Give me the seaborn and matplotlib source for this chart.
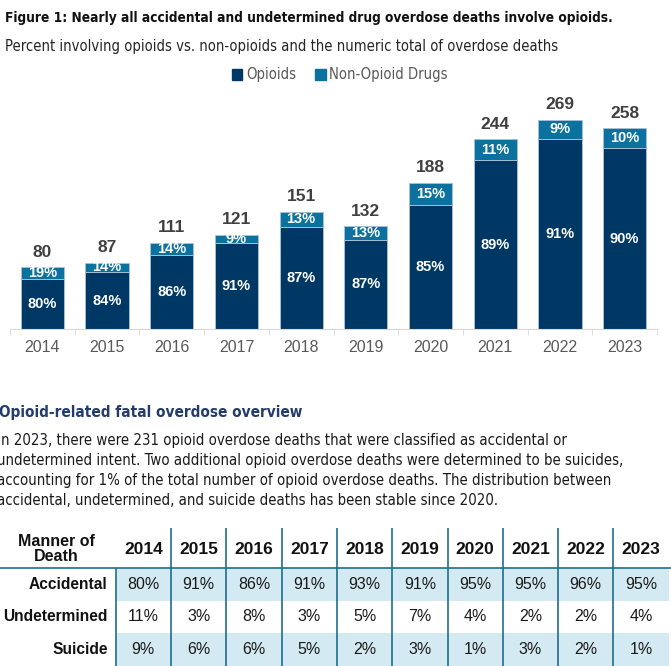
import numpy as np
import pandas as pd
import seaborn as sns
import matplotlib.pyplot as plt
from matplotlib import font_manager as fm
from matplotlib.colors import ListedColormap
from matplotlib.patches import Patch

# figure 1 data
years = ['2014', '2015', '2016', '2017', '2018', '2019', '2020', '2021', '2022', '2023']
totals = [80, 87, 111, 121, 151, 132, 188, 244, 269, 258]
opioid_pct = [80, 84, 86, 91, 87, 87, 85, 89, 91, 90]
nonopioid_pct = [19, 14, 14, 9, 13, 13, 15, 11, 9, 10]

# table data
manner = ['Accidental', 'Undetermined', 'Suicide']
accidental = [80, 91, 86, 91, 93, 91, 95, 95, 96, 95]
undetermined = [11, 3, 8, 3, 5, 7, 4, 2, 2, 4]
suicide = [9, 6, 6, 5, 2, 3, 1, 3, 2, 1]
row_shaded = [1, 0, 1]

paragraph = [
    'In 2023, there were 231 opioid overdose deaths that were classified as accidental or',
    'undetermined intent. Two additional opioid overdose deaths were determined to be suicides,',
    'accounting for 1% of the total number of opioid overdose deaths. The distribution between',
    'accidental, undetermined, and suicide deaths has been stable since 2020.',
]

C_OP = '#003865'
C_NON = '#0b72a0'
EDGE = '#a9c0d3'
GREY = '#595959'
SEP = '#1f6e8c'
SANS = ['Liberation Sans', 'DejaVu Sans']

# pick a narrow face if one is installed
faces = {(f.name, f.stretch) for f in fm.fontManager.ttflist}
NARROW = dict(family=SANS)
for name, stretch in faces:
    if name == 'Liberation Sans Narrow':
        NARROW = dict(family=['Liberation Sans Narrow', 'DejaVu Sans'])
        break
    if name == 'DejaVu Sans' and stretch == 'condensed':
        NARROW = dict(family=['DejaVu Sans'], stretch='condensed')

W, H = 671, 666
fig = plt.figure(figsize=(W / 100, H / 100), dpi=100)
renderer = fig.canvas.get_renderer()


def fx(x):
    return x / W


def fy(y):
    return 1 - y / H


def fit(t, width_px):
    w = t.get_window_extent(renderer=renderer).width
    t.set_fontsize(t.get_fontsize() * width_px / w)
    return t.get_fontsize()


title = fig.text(fx(5), fy(18), 'Figure 1: Nearly all accidental and undetermined drug overdose deaths involve opioids.',
                 weight='bold', fontsize=12.5, va='center', color='#111111', **NARROW)
fit(title, 610)
sub = fig.text(fx(5), fy(47), 'Percent involving opioids vs. non-opioids and the numeric total of overdose deaths',
               fontsize=11.3, va='center', color='#262626', **NARROW)
fit(sub, 555)

# ---- bar chart
df = pd.DataFrame({'year': years, 'total': totals, 'op': opioid_pct, 'non': nonopioid_pct})
df['op_h'] = df['total'] * df['op'] / 100
df['top_h'] = df['total'] * (df['op'] + df['non']) / 100

ax = fig.add_axes([fx(10), fy(329), fx(647), 241 / H])
sns.barplot(data=df, x='year', y='top_h', color=C_NON, width=0.667, saturation=1,
            edgecolor=EDGE, linewidth=0.7, errorbar=None, ax=ax)
sns.barplot(data=df, x='year', y='op_h', color=C_OP, width=0.667, saturation=1,
            edgecolor=EDGE, linewidth=0.7, errorbar=None, ax=ax)

for i, row in df.iterrows():
    ax.text(i, row['op_h'] / 2, f"{row['op']}%", ha='center', va='center',
            color='white', weight='bold', fontsize=10.5, family=SANS)
    ax.text(i, row['op_h'] + (row['top_h'] - row['op_h']) / 2, f"{row['non']}%", ha='center',
            va='center', color='white', weight='bold', fontsize=10.5, family=SANS)
    ax.annotate(str(row['total']), (i, row['top_h']), xytext=(0, 11), textcoords='offset points',
                ha='center', va='center', color='#404040', weight='bold', fontsize=12.5, family=SANS)

ax.set_xlim(-0.5, 9.5)
ax.set_ylim(0, 310)
ax.set_yticks([])
ax.set_xlabel('')
ax.set_ylabel('')
for s in ['top', 'left', 'right']:
    ax.spines[s].set_visible(False)
ax.spines['bottom'].set_color('#d9d9d9')
ax.set_xticks(np.arange(-0.5, 10, 1), minor=True)
ax.tick_params(axis='x', which='major', length=0, pad=8, labelsize=11.5, labelcolor=GREY)
ax.tick_params(axis='x', which='minor', length=4, color='#d9d9d9')
for lab in ax.get_xticklabels():
    lab.set_family(SANS)

# legend font sized so "Non-Opioid Drugs" spans about 118 px
probe = fig.text(0, 0, 'Non-Opioid Drugs', fontsize=11, **NARROW)
leg_size = fit(probe, 118)
probe.remove()
leg_prop = {'size': leg_size, 'family': NARROW['family']}
if 'stretch' in NARROW:
    leg_prop['stretch'] = NARROW['stretch']
fig.legend(handles=[Patch(color=C_OP, label='Opioids'), Patch(color=C_NON, label='Non-Opioid Drugs')],
           loc='center', bbox_to_anchor=(fx(340), fy(75)), ncol=2, frameon=False,
           handlelength=0.7, handleheight=0.7, handletextpad=0.25, columnspacing=1.3,
           prop=leg_prop, labelcolor=GREY)

# ---- section text
head = fig.text(fx(-1), fy(413), 'Opioid-related fatal overdose overview', weight='bold',
                fontsize=14, va='center', color='#243c6b', **NARROW)
fit(head, 305)
lines = [fig.text(fx(-3), fy(441 + k * 19.7), line, fontsize=12, va='center', color='#1a1a1a', **NARROW)
         for k, line in enumerate(paragraph)]
psize = fit(lines[1], 623)
for t in lines:
    t.set_fontsize(psize)

# ---- table
tab = pd.DataFrame([accidental, undetermined, suicide], index=manner, columns=years)
labels = tab.map(lambda v: f'{v}%').values
shade = np.repeat(np.array(row_shaded)[:, None], len(years), axis=1)

tx = fig.add_axes([0, 0, 1, 138 / H])
sns.heatmap(shade, cmap=ListedColormap(['white', '#d4eaf2']), vmin=0, vmax=1, cbar=False,
            annot=labels, fmt='', annot_kws={'color': '#1a1a1a', 'fontsize': 11.5, 'family': SANS}, ax=tx)
tx.set_xlim(-115.7 / 55.3, (W - 115.7) / 55.3)
tx.set_ylim(3, -40 / 32.67)
tx.set_xticks([])
tx.set_yticks([])

tx.vlines(range(1, len(years)), -40 / 32.67, 3, color=SEP, lw=1.2)
tx.vlines(0, 0, 3, color=SEP, lw=1.2)
tx.hlines(0, -115.7 / 55.3, (W - 115.7) / 55.3, color=SEP, lw=1.2)

for k, y in enumerate(years):
    tx.text(k + 0.5, -0.58, y, ha='center', va='center', weight='bold', fontsize=12.5, family=SANS, color='#111111')
tx.text(-1.08, -0.58, 'Manner of\nDeath', ha='center', va='center', weight='bold', fontsize=11.5,
        family=SANS, color='#111111', linespacing=1.0)
for i, m in enumerate(manner):
    tx.text(-0.145, i + 0.5, m, ha='right', va='center', weight='bold', fontsize=11.2, family=SANS, color='#111111')

fig.savefig('out.png', dpi=100)
